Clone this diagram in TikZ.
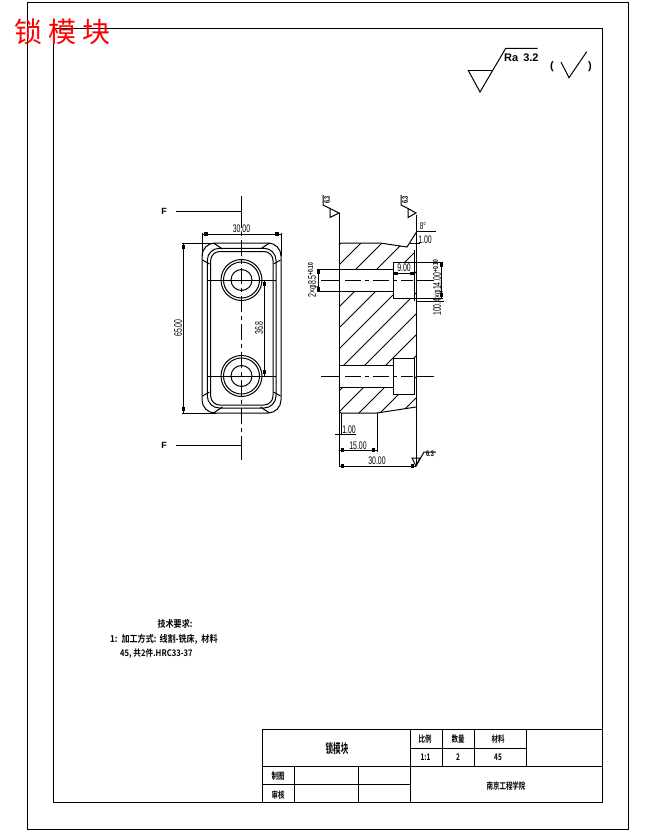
\documentclass[tikz,border=0pt]{standalone}
\usepackage{fontspec}
\setmainfont{Liberation Sans}
\newfontfamily\dimf[FakeStretch=0.63]{Liberation Sans}
\newfontfamily\dimb[FakeStretch=0.7]{Liberation Sans Bold}
\newfontfamily\cjk{Noto Sans CJK SC}
\newfontfamily\cjkb[FakeStretch=0.72]{Noto Sans CJK SC Bold}
\newfontfamily\cjkt[FakeStretch=0.58]{Noto Sans CJK SC Bold}
\newfontfamily\cjkn[FakeStretch=0.85]{Noto Sans CJK SC Bold}
\newfontfamily\rafont{Liberation Sans Bold}
\usetikzlibrary{calc}
\tikzset{
  ln/.style={line width=1pt,black},
  dimtxt/.style={inner sep=0pt,font=\dimf\fontsize{11}{11}\selectfont},
  cell/.style={inner sep=0pt,font=\cjkb\fontsize{9}{10}\selectfont},
  note/.style={inner sep=0pt,anchor=west,font=\cjkn\fontsize{9.5}{11}\selectfont},
  sq/.style={fill=black,draw=none},
  axis ln/.style={line width=1pt,dash pattern=on 16pt off 4pt on 4pt off 4pt},
  rough/.style={inner sep=0pt,font=\dimb\fontsize{8}{8}\selectfont}
}
\newcommand{\dimend}[2]{\fill[sq] (#1-1.6,#2-1.6) rectangle (#1+1.6,#2+1.6);}
\begin{document}
\begin{tikzpicture}[x=1pt,y=-1pt]
\useasboundingbox (0,0) rectangle (654,830);
\fill[white] (0,0) rectangle (654,830);
% frames
\draw[ln] (27,2) rectangle (628,829);
\draw[ln] (53,28) rectangle (602,802);
% title block
\draw[ln] (262,729) rectangle (602,802);
\draw[ln] (262,766) -- (602,766);
\draw[ln] (262,784) -- (410,784);
\draw[ln] (410,729) -- (410,802);
\draw[ln] (294,766) -- (294,802);
\draw[ln] (358,766) -- (358,802);
\draw[ln] (442,729) -- (442,766);
\draw[ln] (474,729) -- (474,766);
\draw[ln] (526,729) -- (526,766);
\draw[ln] (410,748) -- (526,748);
\node[cell,font=\cjkt\fontsize{13}{13}\selectfont] (tname) at (337,749) {锁模块};
\node[cell] (tscale) at (425,739) {比例};
\node[cell] (tqty) at (458,739) {数量};
\node[cell] (tmat) at (498,739) {材料};
\node[cell] (vscale) at (425.5,757) {1:1};
\node[cell] (vqty) at (458,757) {2};
\node[cell] (vmat) at (498,757) {45};
\node[cell] (tdraw) at (278,776) {制图};
\node[cell] (tcheck) at (278,795) {审核};
\node[cell] (tschool) at (506,786) {南京工程学院};
% big title
\node[inner sep=0pt,anchor=west,text=red,font=\cjk\fontsize{28}{28}\selectfont] (bigtitle) at (14,32) {锁\hspace{6pt}模\hspace{6pt}块};
% roughness
\draw[ln] (468,70) -- (493,70);
\draw[ln] (468,70) -- (480,92) -- (505.7,48.3) -- (537.7,48.3);
\node[inner sep=0pt,anchor=west,font=\rafont\fontsize{11}{11}\selectfont] (ra) at (504,58) {Ra\hspace{5pt}3.2};
\node[inner sep=0pt,font=\rafont\fontsize{11}{11}\selectfont] (lp) at (552,67) {(};
\node[inner sep=0pt,font=\rafont\fontsize{11}{11}\selectfont] (rp) at (590,67) {)};
\draw[ln] (561,62) -- (569,77.7) -- (586.7,51.7);
% notes
\node[note,anchor=center] (n1) at (175,624) {技术要求:};
\node[note] (n2) at (110,639) {1:\hspace{4pt}加工方式:\hspace{3pt}线割-铣床,\hspace{4pt}材料};
\node[note,font=\cjkn\fontsize{9}{11}\selectfont] (n3) at (120,654) {45, 共2件.HRC33-37};
% ---- left view
\draw[axis ln] (241.5,212) -- (241.5,445);
\draw[ln] (176,211.5) -- (241.5,211.5) -- (241.5,196);
\draw[ln] (176,445) -- (241.5,445) -- (241.5,460);
\node[inner sep=0pt,font=\rafont\fontsize{9}{9}\selectfont] (f1) at (164,211) {F};
\node[inner sep=0pt,font=\rafont\fontsize{9}{9}\selectfont] (f2) at (164,445) {F};
\draw[ln,rounded corners=13] (202,243) rectangle (281,413);
\draw[ln,rounded corners=12] (207.3,248.3) rectangle (276,408);
\draw[ln,rounded corners=9] (210.7,251.5) rectangle (273,405);
\foreach \sx/\sy in {-1/-1,1/-1,-1/1,1/1}{
  \draw[ln] ($(241.5,328)+(\sx*28,\sy*85)$) -- ($(241.5,328)+(\sx*19,\sy*79)$);
  \draw[ln] ($(241.5,328)+(\sx*39,\sy*68)$) -- ($(241.5,328)+(\sx*32,\sy*64)$);
}
\foreach \cy in {280,376}{
  \draw[ln] (241.5,\cy) circle[radius=20.5pt];
  \draw[ln] (241.5,\cy) circle[radius=18pt];
  \draw[ln] (241.5,\cy) circle[radius=10.5pt];
  \draw[ln] (207,\cy) -- (276,\cy);
}
% dims left view
\draw[ln] (202,256) -- (202,233);
\draw[ln] (281,256) -- (281,233);
\draw[ln] (202,234) -- (281,234);
\dimend{206}{234}\dimend{277}{234}
\node[dimtxt] (d30a) at (241.5,229) {30.00};
\draw[ln] (182,243) -- (216,243);
\draw[ln] (182,413) -- (216,413);
\draw[ln] (183.5,243) -- (183.5,413);
\dimend{183.5}{247}\dimend{183.5}{409}
\node[dimtxt,rotate=90] (d65) at (178,328) {65.00};
\draw[ln] (264.7,280) -- (264.7,376);
\dimend{264.7}{284}\dimend{264.7}{372}
\node[dimtxt,rotate=90] (d36) at (259,328) {36.8};
% ---- section view hatching
\begin{scope}[even odd rule]
\clip (339,245) -- (341,243) -- (380,243) -- (407,247) -- (414.5,249) -- (416,260) -- (416,407) -- (377,413) -- (341,413) -- (339,411) -- cycle
 (339,269.5) -- (393,269.5) -- (393,262) -- (414.5,262) -- (414.5,298) -- (393,298) -- (393,291.5) -- (339,291.5) -- cycle
 (339,365.5) -- (393,365.5) -- (393,358.5) -- (414.5,358.5) -- (414.5,394.5) -- (393,394.5) -- (393,387.5) -- (339,387.5) -- cycle;
\foreach \k in {0,...,12}{
  \pgfmathsetmacro{\s}{583+21*\k}
  \draw[ln] (\s-200,200) -- (\s-500,500);
}
\end{scope}
% section outline
\draw[ln] (339,213) -- (339,466);
\draw[ln] (339,245) -- (341,243) -- (380,243) -- (407,247) -- (416.5,232);
\draw[ln] (416,215) -- (416,466);
\draw[ln] (414.8,250) -- (414.8,301);
\draw[ln] (339,411) -- (341,413) -- (377,413) -- (416,407);
% holes
\draw[ln] (339,269.5) -- (393,269.5);
\draw[ln] (339,291.5) -- (393,291.5);
\draw[ln] (393,262) rectangle (414.5,298);
\draw[ln] (339,365.5) -- (393,365.5);
\draw[ln] (339,387.5) -- (393,387.5);
\draw[ln] (393,358.5) rectangle (414.5,394.5);
% centre lines
\foreach \cy in {280,376.3}{
  \draw[ln] (321,\cy) -- (339,\cy);
  \draw[axis ln] (345,\cy) -- (413,\cy);
  \draw[ln] (417,\cy) -- (434,\cy);
}
% left dims section
\draw[ln] (317,269.5) -- (339,269.5);
\draw[ln] (317,291.5) -- (339,291.5);
\draw[ln] (318.5,269.5) -- (318.5,291.5);
\dimend{318.5}{272}\dimend{318.5}{289}
\node[dimtxt,rotate=90] (d85) at (313,280) {2×φ8.5{\dimb\fontsize{7}{7}\selectfont\raisebox{3pt}{+0.10}}};
% 9.00
\draw[ln] (393,273.5) -- (414.5,273.5);
\dimend{396}{273.5}\dimend{412}{273.5}
\node[dimtxt] (d9) at (404,268) {9.00};
% right dims
\draw[ln] (414.5,262) -- (443,262);
\draw[ln] (414.5,298) -- (443,298);
\draw[ln] (416,301) -- (444,301);
\draw[ln] (441.5,262) -- (441.5,298);
\dimend{441.5}{265}\dimend{441.5}{295}
\node[dimtxt,rotate=90] (d14) at (438,288) {100.4×φ14.00{\dimb\fontsize{7}{7}\selectfont\raisebox{3pt}{+0.10}}};
% chamfer label
\draw[ln] (416,231.5) -- (436,231.5);
\draw[ln] (410,243) -- (420,243);
\node[inner sep=0pt,font=\dimf\fontsize{10}{10}\selectfont] (d8) at (423,226) {8°};
\node[dimtxt] (d1a) at (425,240) {1.00};
% surface marks
\draw[ln] (339,213) -- (330,208.5) -- (330,217.5) -- cycle;
\draw[ln] (323,195) -- (323,205) -- (330,208.5);
\node[rough,rotate=90] (s1) at (327,200) {6.3};
\draw[ln] (416,213) -- (408,208.5) -- (408,217.5) -- cycle;
\draw[ln] (401,195) -- (401,205) -- (408,208.5);
\node[rough,rotate=90] (s2) at (405,200) {6.3};
% bottom dims
\draw[ln] (341,413) -- (341,435);
\draw[ln] (335,434) -- (356,434);
\node[dimtxt] (d1b) at (349,430) {1.00};
\draw[ln] (377,413) -- (377,452);
\draw[ln] (339,450) -- (377,450);
\dimend{342.5}{450}\dimend{373.5}{450}
\node[dimtxt] (d15) at (358,446) {15.00};
\draw[ln] (339,466) -- (416,466);
\dimend{342.5}{466}\dimend{412.5}{466}
\node[dimtxt] (d30b) at (377,461) {30.00};
\draw[ln] (412,458) -- (420,458) -- (416,466) -- cycle;
\draw[ln] (416,466) -- (424,452) -- (436,452);
\node[rough] (s3) at (430,454) {6.3};
\end{tikzpicture}
\end{document}
